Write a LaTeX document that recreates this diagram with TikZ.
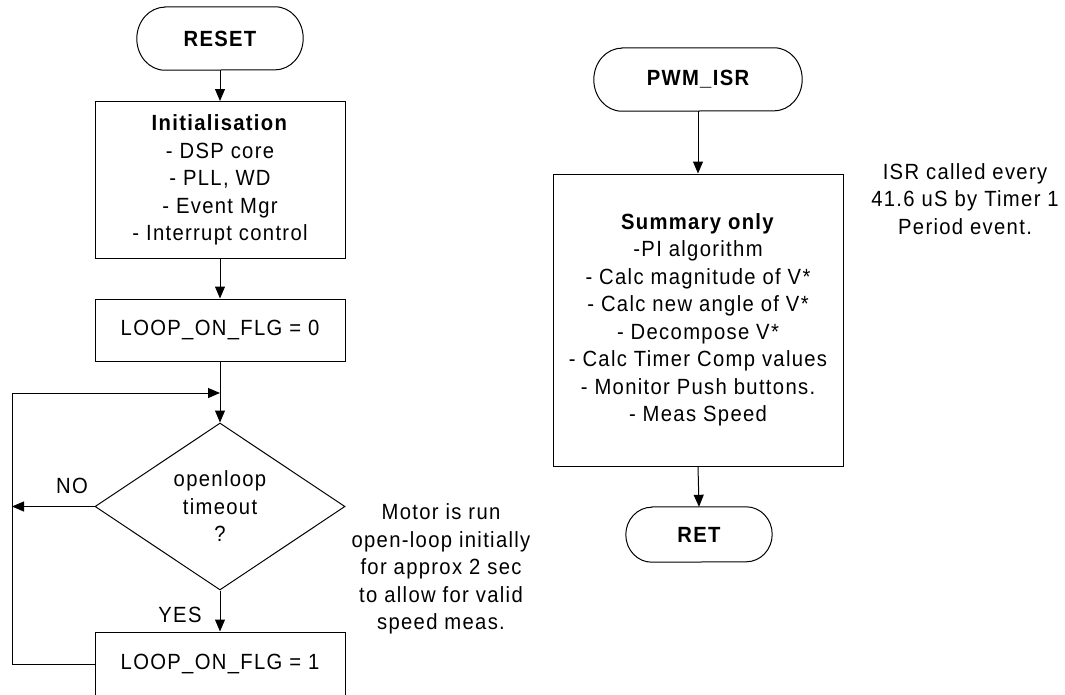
\documentclass[tikz,border=0pt]{standalone}
\usepackage{fontspec}
\setmainfont{Liberation Sans}[LetterSpace=6,FakeStretch=0.92]
\usetikzlibrary{arrows.meta,shapes.geometric}
\newcommand\myterm[3]{\draw[line width=1pt] ([xshift=#2]#1.north west) -- ([xshift=-#2]#1.north east) arc[start angle=90,end angle=-90,x radius=#2,y radius=#3] -- ([xshift=#2]#1.south west) arc[start angle=270,end angle=90,x radius=#2,y radius=#3] -- cycle;}
\tikzset{
  txt/.style={font=\fontsize{22}{27.5}\selectfont, align=center, inner sep=0pt},
  term/.style={txt, draw=none, font=\fontsize{22}{27.5}\selectfont\bfseries},
  procbox/.style={txt, draw, line width=1pt, rectangle},
  decbox/.style={txt, draw, line width=1pt, diamond, aspect=1.5},
  arr/.style={line width=1pt, -{Triangle[length=12pt,width=10pt]}},
  ln/.style={line width=1pt}
}
\begin{document}
\begin{tikzpicture}[x=1pt,y=-1pt]
\useasboundingbox (0,0) rectangle (1065,694);
\clip (0,0) rectangle (1065,694);
% left flow
\node[term, minimum width=166pt, minimum height=63pt] (reset) at (220,38.5) {RESET};
\myterm{reset}{28pt}{31.5pt}
\node[procbox, minimum width=250pt, minimum height=157pt] (init) at (220,180) {\textbf{Initialisation}\\- DSP core\\- PLL, WD\\- Event Mgr\\- Interrupt control};
\node[procbox, minimum width=250pt, minimum height=62pt] (loop0) at (220,330) {LOOP\_ON\_FLG = 0};
\coordinate (merge) at (220,393);
\node[decbox, minimum width=250pt, minimum height=167pt] (dec) at (220,506.5) {openloop\\timeout\\?};
\node[procbox, minimum width=250pt, minimum height=64pt] (loop1) at (220,664) {LOOP\_ON\_FLG = 1};
\coordinate (lft) at (12,393);
\coordinate (lfm) at (12,506.5);
\coordinate (lfb) at (12,664);
\node[txt] (no) at (72,486) {NO};
\node[txt] (yes) at (180,615) {YES};
\node[txt] (motor) at (441,569) {Motor is run\\open-loop initially\\for approx 2 sec\\to allow for valid\\speed meas.};
\draw[arr] (reset.south) -- (init.north);
\draw[arr] (init.south) -- (loop0.north);
\draw[arr] (loop0.south) -- (dec.north);
\draw[arr] (loop1.west) -- (lfb) -- (lft) -- (merge);
\draw[arr] (dec.west) -- (lfm);
\draw[arr] (dec.south) -- (loop1.north);
% right flow
\node[term, minimum width=208pt, minimum height=63pt] (pwm) at (698,79.5) {PWM\_ISR};
\myterm{pwm}{28pt}{31.5pt}
\node[procbox, minimum width=290pt, minimum height=292pt] (summ) at (698,320) {\textbf{Summary only}\\-PI algorithm\\- Calc magnitude of V*\\- Calc new angle of V*\\- Decompose V*\\- Calc Timer Comp values\\- Monitor Push buttons.\\- Meas Speed};
\node[term, minimum width=146pt, minimum height=55pt] (ret) at (699,534.5) {RET};
\myterm{ret}{26pt}{27.5pt}
\node[txt] (isr) at (965,199) {ISR called every\\41.6 uS by Timer 1\\Period event.};
\draw[arr] (pwm.south) -- (summ.north);
\draw[arr] (summ.south) -- (ret.north);
\end{tikzpicture}
\end{document}
